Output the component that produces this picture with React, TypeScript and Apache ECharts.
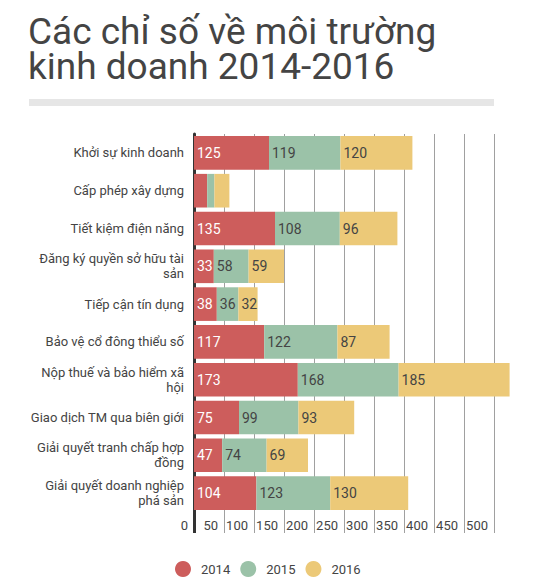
import { useEffect, useRef } from 'react';
import * as echarts from 'echarts';

const categories = [
  'Khởi sự kinh doanh',
  'Cấp phép xây dựng',
  'Tiết kiệm điện năng',
  'Đăng ký quyền sở hữu tài sản',
  'Tiếp cận tín dụng',
  'Bảo vệ cổ đông thiểu số',
  'Nộp thuế và bảo hiểm xã hội',
  'Giao dịch TM qua biên giới',
  'Giải quyết tranh chấp hợp đồng',
  'Giải quyết doanh nghiệp phá sản',
];

// where the long category names wrap in the original
const wrappedNames: Record<string, string> = {
  'Đăng ký quyền sở hữu tài sản': 'Đăng ký quyền sở hữu tài\nsản',
  'Nộp thuế và bảo hiểm xã hội': 'Nộp thuế và bảo hiểm xã\nhội',
  'Giải quyết tranh chấp hợp đồng': 'Giải quyết tranh chấp hợp\nđồng',
  'Giải quyết doanh nghiệp phá sản': 'Giải quyết doanh nghiệp\nphá sản',
};

const values2014 = [125, 22, 135, 33, 38, 117, 173, 75, 47, 104];
const values2015 = [119, 12, 108, 58, 36, 122, 168, 99, 74, 123];
const values2016 = [120, 25, 96, 59, 32, 87, 185, 93, 69, 130];

const years = ['2014', '2015', '2016'];
const colors = ['#cd5d5c', '#9bc2a8', '#ecc978'];

export default function App() {
  const chartRef = useRef<HTMLDivElement>(null);

  useEffect(() => {
    if (!chartRef.current) return;
    const chart = echarts.init(chartRef.current, null, { renderer: 'svg' });

    const font = 'Roboto';
    // small segments (construction permits) carry no label in the original
    const labelFor = (color: string) => ({
      show: true,
      position: 'insideLeft',
      distance: 3,
      color,
      fontFamily: font,
      fontSize: 14,
      formatter: (p: any) => (p.value < 30 ? '' : String(p.value)),
    });

    const seriesData = [values2014, values2015, values2016];

    const option = {
      animation: false,
      textStyle: { fontFamily: font },
      title: {
        text: 'Các chỉ số về môi trường\nkinh doanh 2014-2016',
        left: 28,
        top: 14,
        padding: 0,
        textStyle: {
          fontFamily: font,
          fontSize: 37,
          fontWeight: 'normal',
          color: '#444',
          lineHeight: 35,
        },
      },
      graphic: [
        {
          type: 'rect',
          left: 29,
          top: 99,
          shape: { width: 465, height: 7 },
          style: { fill: '#e6e6e6' },
        },
      ],
      legend: {
        data: years,
        left: 175,
        top: 561,
        padding: 0,
        icon: 'circle',
        itemWidth: 16,
        itemHeight: 16,
        itemGap: 10,
        textStyle: {
          fontFamily: font,
          fontSize: 13,
          color: '#444',
          padding: [0, 0, 0, 5],
        },
      },
      grid: {
        left: 194,
        right: 55,
        top: 134,
        bottom: 73,
        containLabel: false,
      },
      xAxis: [
        {
          type: 'value',
          min: 0,
          max: 500,
          interval: 50,
          axisLine: { show: false },
          axisTick: {
            show: true,
            length: 21,
            lineStyle: { color: '#a0a0a0', width: 1 },
          },
          splitLine: { show: true, lineStyle: { color: '#a0a0a0', width: 1 } },
          axisLabel: {
            align: 'right',
            padding: [0, 6, 0, 0],
            margin: 7,
            color: '#444',
            fontFamily: font,
            fontSize: 13,
          },
        },
        {
          type: 'value',
          min: 0,
          max: 500,
          position: 'bottom',
          axisLine: { show: false },
          splitLine: { show: false },
          axisLabel: { show: false },
          axisTick: {
            show: true,
            customValues: [0],
            length: 21,
            lineStyle: { color: '#333', width: 3 },
          },
        },
      ],
      yAxis: {
        type: 'category',
        inverse: true,
        data: categories,
        axisLine: { show: true, lineStyle: { color: '#333', width: 3 } },
        axisTick: { show: false },
        splitLine: { show: false },
        axisLabel: {
          margin: 10,
          color: '#444',
          fontFamily: font,
          fontSize: 13,
          lineHeight: 15,
          formatter: (name: string) => wrappedNames[name] || name,
        },
      },
      series: years.map((year, i) => ({
        name: year,
        type: 'bar',
        stack: 'total',
        clip: false,
        barCategoryGap: '11%',
        data: seriesData[i],
        itemStyle: { color: colors[i] },
        label: labelFor(i === 0 ? '#fff' : '#444'),
      })),
    };

    chart.setOption(option);

    return () => {
      chart.dispose();
    };
  }, []);

  return (
    <div
      ref={chartRef}
      style={{ position: 'absolute', left: 0, top: 0, width: '549px', height: '585px' }}
    />
  );
}
